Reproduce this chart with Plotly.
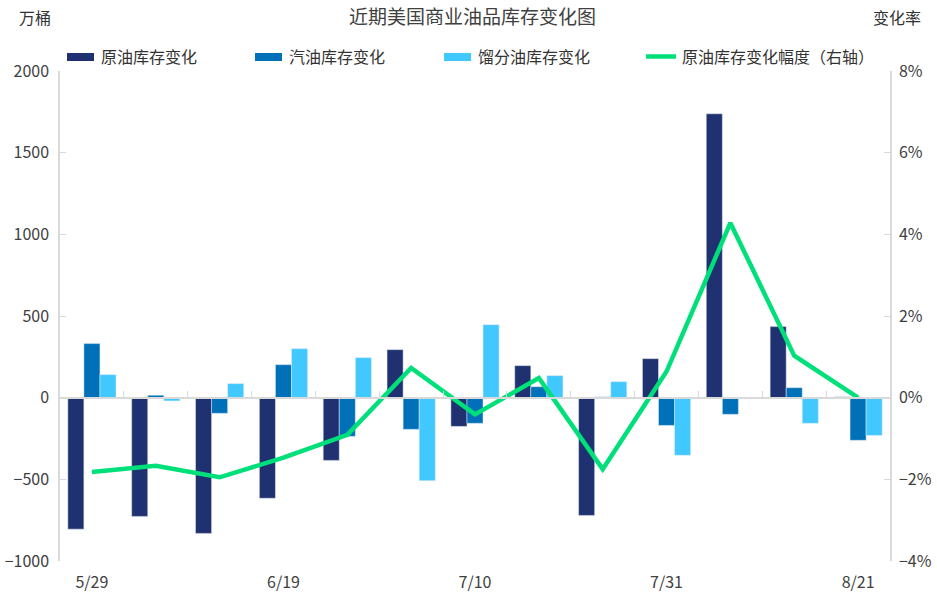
import plotly.graph_objects as go

dates = ["5/29", "6/5", "6/12", "6/19", "6/26", "7/3", "7/10", "7/17", "7/24", "7/31", "8/7", "8/14", "8/21"]
crude = [-805, -727, -831, -616, -384, 294, -176, 196, -721, 239, 1738, 435, 5]
gasoline = [331, 15, -96, 202, -237, -194, -157, 67, 5, -170, -102, 61, -261]
distillate = [141, -20, 86, 300, 245, -508, 447, 135, 98, -353, 0, -157, -231]
crude_pct = [-1.82, -1.67, -1.95, -1.47, -0.91, 0.73, -0.41, 0.48, -1.75, 0.64, 4.28, 1.03, 0.0]
shown_ticks = ["5/29", "6/19", "7/10", "7/31", "8/21"]

names = ["原油库存变化", "汽油库存变化", "馏分油库存变化", "原油库存变化幅度（右轴）"]
colors = ["#1F3170", "#0070B8", "#40C8FF", "#00E07A"]

FONT = "Noto Sans CJK SC"
TXT = "#404040"
AX = "#d9d9d9"
W, H = 937, 601
ML, MR, MT, MB = 60, 47, 71, 40
PW, PH = W - ML - MR, H - MT - MB


def px(x):
    return (x - ML) / PW


def py(y):
    return (H - MB - y) / PH


fig = go.Figure()
fig.add_trace(go.Bar(x=dates, y=crude, name=names[0], marker_color=colors[0]))
fig.add_trace(go.Bar(x=dates, y=gasoline, name=names[1], marker_color=colors[1]))
fig.add_trace(go.Bar(x=dates, y=distillate, name=names[2], marker_color=colors[2]))
fig.add_trace(go.Scatter(x=dates, y=[v / 100 for v in crude_pct], name=names[3],
                         mode="lines", line=dict(color=colors[3], width=4.5), yaxis="y2"))
fig.add_trace(go.Scatter(x=[dates[0]], y=[None], xaxis="x2", showlegend=False, hoverinfo="skip"))

ymin, ymax = -1000, 2000
zero_frac = (0 - ymin) / (ymax - ymin)

# manual legend (layout decoration)
leg_x = [67, 255, 444, 646]
shapes, annos = [], []
for i, (nm, col, x0) in enumerate(zip(names, colors, leg_x)):
    if i < 3:
        shapes.append(dict(type="rect", xref="paper", yref="paper", x0=px(x0), x1=px(x0 + 27),
                           y0=py(61), y1=py(53), fillcolor=col, line=dict(width=0)))
        tx = x0 + 32
    else:
        shapes.append(dict(type="line", xref="paper", yref="paper", x0=px(x0), x1=px(x0 + 30),
                           y0=py(56.5), y1=py(56.5), line=dict(color=col, width=4.5)))
        tx = x0 + 34
    annos.append(dict(text=nm, xref="paper", yref="paper", x=px(tx), xanchor="left",
                      y=py(56.5), yanchor="middle", showarrow=False,
                      font=dict(size=16, color="#333333")))

annos += [
    dict(text="近期美国商业油品库存变化图", xref="paper", yref="paper", x=px(472), y=py(16),
         yanchor="middle", xanchor="center", showarrow=False,
         font=dict(size=19, color="#404040")),
    dict(text="万桶", xref="paper", yref="paper", x=px(35), xanchor="center", y=py(17.5),
         yanchor="middle", showarrow=False, font=dict(size=16, color="#333333")),
    dict(text="变化率", xref="paper", yref="paper", x=px(897), xanchor="center", y=py(17.5),
         yanchor="middle", showarrow=False, font=dict(size=16, color="#333333")),
]

fig.update_layout(
    width=W, height=H,
    margin=dict(l=ML, r=MR, t=MT, b=MB, autoexpand=False),
    paper_bgcolor="white", plot_bgcolor="white",
    font=dict(family=FONT, size=16, color=TXT),
    barmode="group", bargap=0.245, bargroupgap=0,
    showlegend=False,
    xaxis=dict(type="category", categoryarray=dates, range=[-0.5, 12.5],
               tickvals=shown_ticks, ticktext=shown_ticks, showline=False, ticks="",
               showgrid=False, tickfont=dict(size=16, color=TXT), ticklabelstandoff=10),
    xaxis2=dict(type="category", categoryarray=dates, range=[-0.5, 12.5], overlaying="x",
                anchor="free", position=zero_frac, showline=True, linecolor=AX, linewidth=1.5,
                ticks="inside", ticklen=6, tickcolor=AX, tickson="boundaries",
                showticklabels=False, showgrid=False),
    yaxis=dict(range=[ymin, ymax], tickvals=[-1000, -500, 0, 500, 1000, 1500, 2000],
               showgrid=False, zeroline=False, showline=True, linecolor=AX, linewidth=1.5,
               ticks="inside", ticklen=6, tickcolor=AX, tickfont=dict(size=16, color=TXT),
               ticklabelstandoff=6),
    yaxis2=dict(range=[-0.04, 0.08], tickvals=[-0.04, -0.02, 0, 0.02, 0.04, 0.06, 0.08],
                tickformat=".0%", overlaying="y", side="right", showgrid=False, zeroline=False,
                showline=True, linecolor=AX, linewidth=1.5, ticks="inside", ticklen=6,
                tickcolor=AX, tickfont=dict(size=16, color=TXT), ticklabelstandoff=4),
    shapes=shapes,
    annotations=annos,
)

fig.write_html("out.html", config={"displayModeBar": False},
               post_script="document.body.style.margin='0';document.body.style.overflow='hidden';")
